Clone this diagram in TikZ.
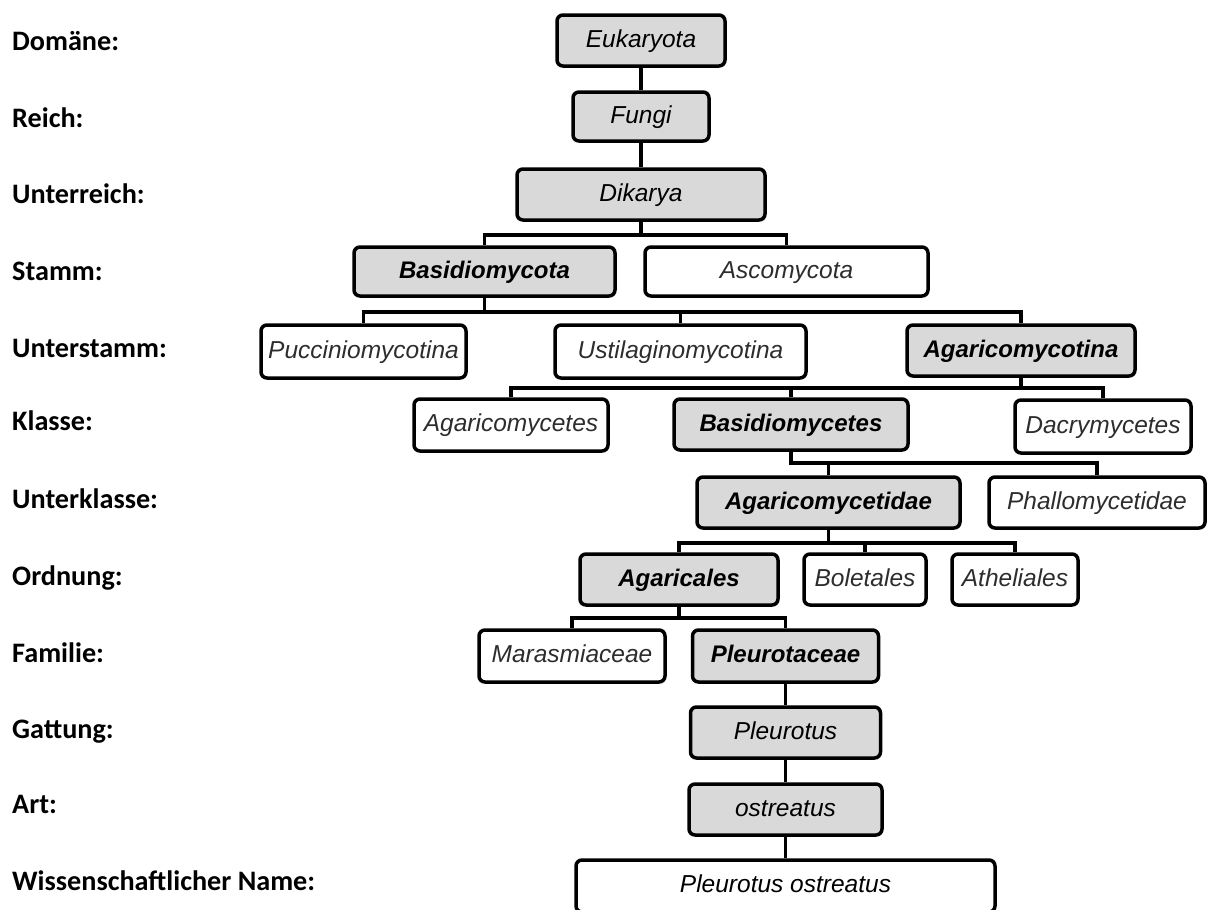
\documentclass[tikz,border=0pt]{standalone}
\usepackage{fontspec}
\setmainfont{Liberation Sans}
\newfontfamily\labfont{Carlito}
\definecolor{boxgray}{RGB}{217,217,217}
\definecolor{wtext}{RGB}{45,45,45}
\begin{document}
\begin{tikzpicture}[x=1pt,y=-1pt,
  box/.style={draw=black, line width=3.5pt, rounded corners=6pt, inner sep=0pt,
    text height=13pt, text depth=0pt,
    font=\fontsize{24.5}{28}\selectfont\itshape},
  gbox/.style={box, fill=boxgray, text=black},
  gboxb/.style={gbox, font=\fontsize{24}{28}\selectfont\bfseries\itshape},
  wbox/.style={box, fill=white, text=wtext},
  lab/.style={anchor=base west, inner sep=0pt, font=\labfont\fontsize{28.2}{32}\selectfont\bfseries},
  conn/.style={line width=3.5pt}]
\useasboundingbox (0,0) rectangle (1210,910);
\clip (0,0) rectangle (1210,910);

% rank labels
\node[lab] (l1) at (12,50) {Domäne:};
\node[lab] (l2) at (12,127) {Reich:};
\node[lab] (l3) at (12,203) {Unterreich:};
\node[lab] (l4) at (12,280) {Stamm:};
\node[lab] (l5) at (12,357) {Unterstamm:};
\node[lab] (l6) at (12,430) {Klasse:};
\node[lab] (l7) at (12,508) {Unterklasse:};
\node[lab] (l8) at (12,585) {Ordnung:};
\node[lab] (l9) at (12,662) {Familie:};
\node[lab] (l10) at (12,738) {Gattung:};
\node[lab] (l11) at (12,813) {Art:};
\node[lab] (l12) at (12,890) {Wissenschaftlicher Name:};

% boxes
\node[gbox, minimum width=168, minimum height=51] (eu) at (641,40.5) {Eukaryota};
\node[gbox, minimum width=136, minimum height=49] (fu) at (641,116.5) {Fungi};
\node[gbox, minimum width=248, minimum height=51] (dik) at (641,194.5) {Dikarya};
\node[gboxb, minimum width=261, minimum height=49] (bas) at (484.5,271.5) {Basidiomycota};
\node[wbox, minimum width=283, minimum height=49] (asc) at (786.5,271.5) {Ascomycota};
\node[wbox, minimum width=205, minimum height=53] (puc) at (363.5,351.5) {Pucciniomycotina};
\node[wbox, minimum width=251, minimum height=53] (ust) at (680.5,351.5) {Ustilaginomycotina};
\node[gboxb, minimum width=228, minimum height=51] (agc) at (1021,350.5) {Agaricomycotina};
\node[wbox, minimum width=194, minimum height=52] (agm) at (511,425) {Agaricomycetes};
\node[gboxb, minimum width=234, minimum height=51] (bsm) at (791,424.5) {Basidiomycetes};
\node[wbox, minimum width=176, minimum height=53] (dac) at (1103,426.5) {Dacrymycetes};
\node[gboxb, minimum width=263, minimum height=51] (agd) at (828.5,502.5) {Agaricomycetidae};
\node[wbox, minimum width=216, minimum height=51] (pha) at (1097,502.5) {Phallomycetidae};
\node[gboxb, minimum width=198, minimum height=51] (agl) at (679,579.5) {Agaricales};
\node[wbox, minimum width=122, minimum height=51] (bol) at (865,579.5) {Boletales};
\node[wbox, minimum width=126, minimum height=51] (ath) at (1015,579.5) {Atheliales};
\node[wbox, minimum width=186, minimum height=52] (mar) at (572,656) {Marasmiaceae};
\node[gboxb, minimum width=186, minimum height=52] (plc) at (785.5,656) {Pleurotaceae};
\node[gbox, minimum width=190, minimum height=51] (plt) at (785.5,732.5) {Pleurotus};
\node[gbox, minimum width=193, minimum height=51] (ost) at (785.5,809.5) {ostreatus};
\node[box, fill=white, text=black, minimum width=419, minimum height=52] (po) at (785.5,886) {Pleurotus ostreatus};

% bus levels
\coordinate (y1) at (0,235);
\coordinate (y2) at (0,312);
\coordinate (y3) at (0,388);
\coordinate (y4) at (0,463);
\coordinate (y5) at (0,543);
\coordinate (y6) at (0,618);

% connectors
\draw[conn] (eu.south) -- (fu.north);
\draw[conn] (fu.south) -- (dik.north);

\draw[conn] (dik.south) -- (dik.south |- y1);
\draw[conn] (bas.north) -- (bas.north |- y1) -- (asc.north |- y1) -- (asc.north);

\draw[conn] (bas.south) -- (bas.south |- y2);
\draw[conn] (puc.north) -- (puc.north |- y2) -- (agc.north |- y2) -- (agc.north);
\draw[conn] (ust.north) -- (ust.north |- y2);

\draw[conn] (agc.south) -- (agc.south |- y3);
\draw[conn] (agm.north) -- (agm.north |- y3) -- (dac.north |- y3) -- (dac.north);
\draw[conn] (bsm.north) -- (bsm.north |- y3);

\draw[conn] (bsm.south) -- (bsm.south |- y4) -- (pha.north |- y4) -- (pha.north);
\draw[conn] (agd.north) -- (agd.north |- y4);

\draw[conn] (agd.south) -- (agd.south |- y5);
\draw[conn] (agl.north) -- (agl.north |- y5) -- (ath.north |- y5) -- (ath.north);
\draw[conn] (bol.north) -- (bol.north |- y5);

\draw[conn] (agl.south) -- (agl.south |- y6);
\draw[conn] (mar.north) -- (mar.north |- y6) -- (plc.north |- y6) -- (plc.north);

\draw[conn] (plc.south) -- (plt.north);
\draw[conn] (plt.south) -- (ost.north);
\draw[conn] (ost.south) -- (po.north);
\end{tikzpicture}
\end{document}
